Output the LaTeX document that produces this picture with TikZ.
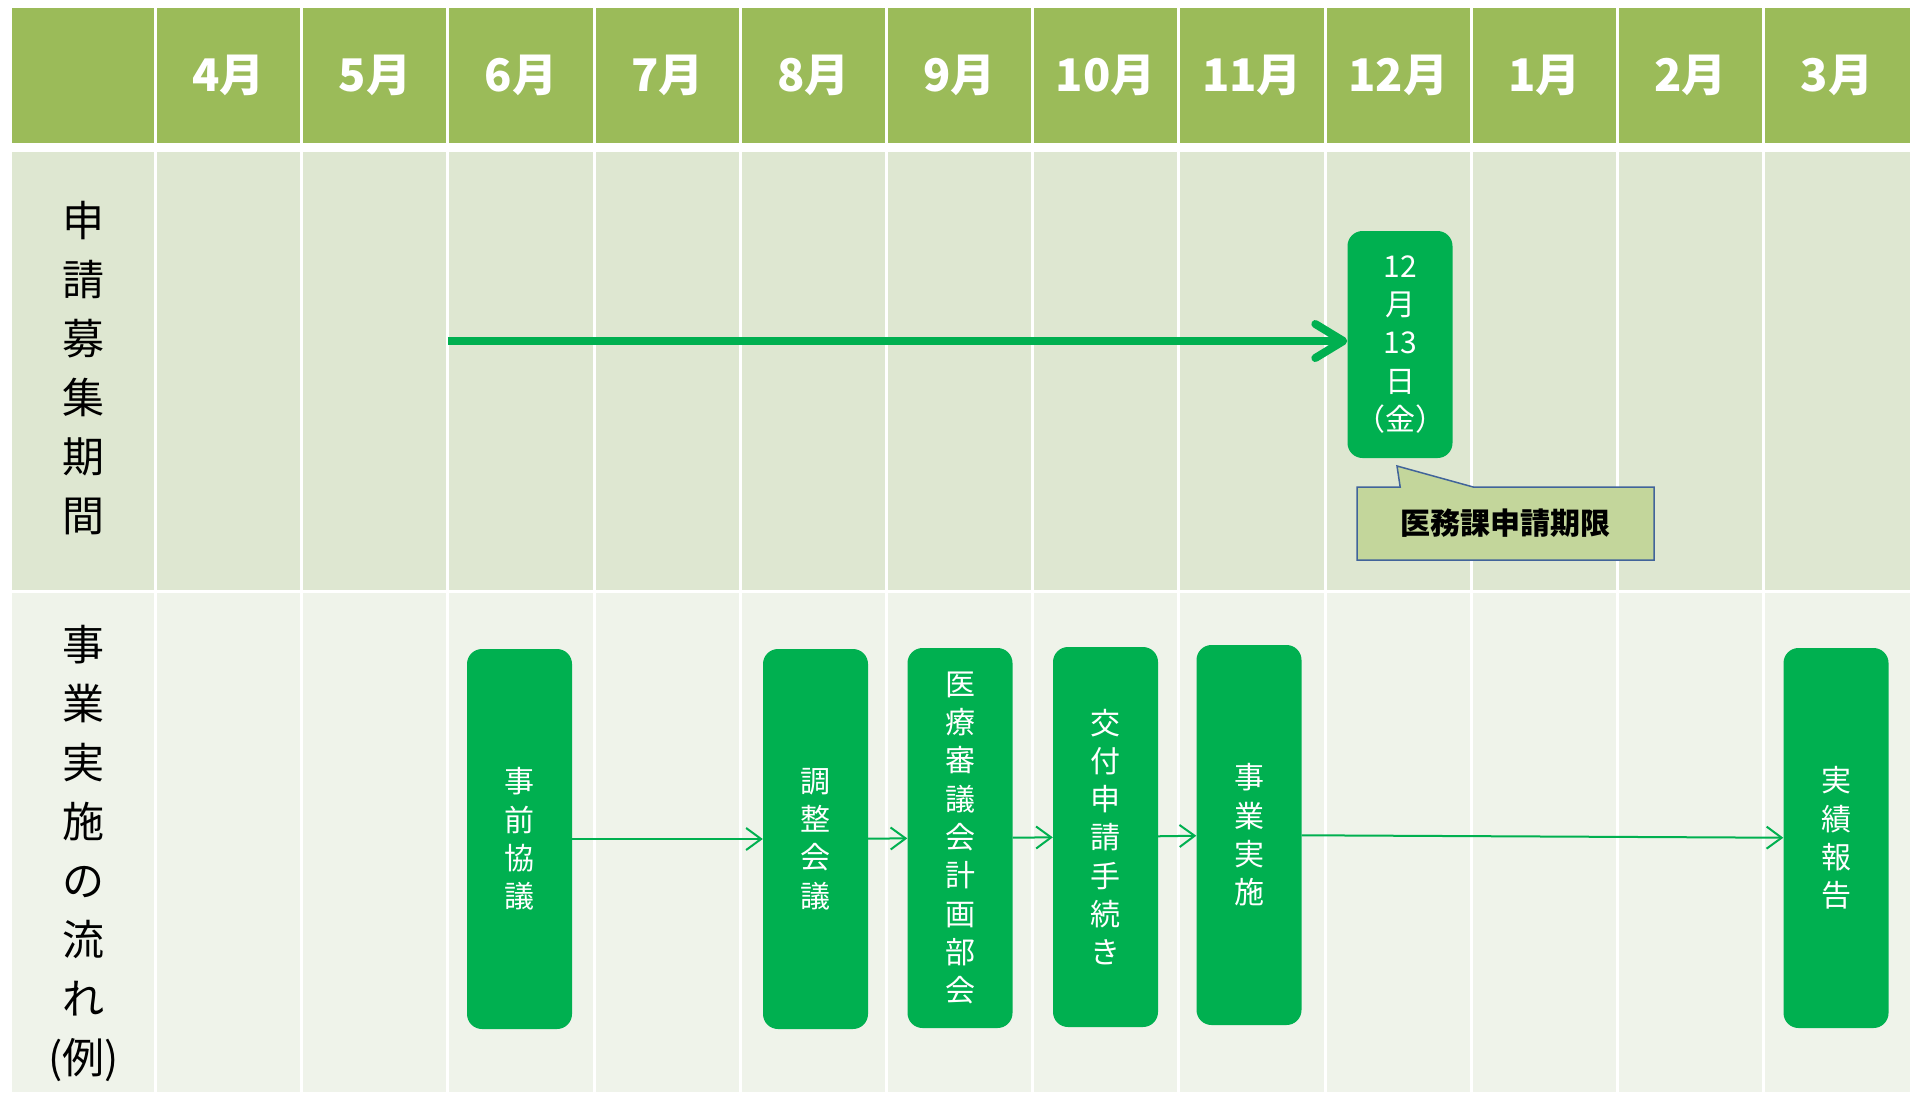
\documentclass[tikz,border=0pt]{standalone}
\usepackage{fontspec}
\setmainfont{Noto Sans CJK JP}
\usetikzlibrary{arrows.meta, shapes.callouts}
\definecolor{headgreen}{HTML}{9BBB59}
\definecolor{rowlight}{HTML}{DEE7D1}
\definecolor{rowpale}{HTML}{EFF3EA}
\definecolor{boxgreen}{HTML}{00B050}
\definecolor{noteolive}{HTML}{C3D69B}
\definecolor{noteblue}{HTML}{41649A}
\tikzset{
  month label/.style={
    text=white,
    font=\fontsize{45}{54}\selectfont\bfseries,
  },
  row label/.style={
    align=center,
    font=\fontsize{42}{59}\selectfont,
  },
  flow box/.style={
    rounded corners=15pt,
    fill=boxgreen,
    text=white,
    align=center,
    minimum width=105pt,
    minimum height=380pt,
    inner sep=0pt,
    font=\fontsize{30}{38.3}\selectfont,
  },
  cell rule/.style={
    white,
    line width=3pt,
  },
  flow arrow/.style={
    draw=boxgreen,
    line width=2pt,
    -{Straight Barb[length=15pt, width=22pt]},
  },
}

\begin{document}
\begin{tikzpicture}[x=1pt, y=-1pt]
      \useasboundingbox (0,0) rectangle (1910,1092);

      \fill[headgreen] (12,8) rectangle (1910,143);
      \fill[rowlight] (12,152) rectangle (1910,590);
      \fill[rowpale] (12,593) rectangle (1910,1092);

      \draw[cell rule] (155.5,0) -- (155.5,1092);
      \draw[cell rule] (301.7,0) -- (301.7,1092);
      \draw[cell rule] (447.9,0) -- (447.9,1092);
      \draw[cell rule] (594.1,0) -- (594.1,1092);
      \draw[cell rule] (740.3,0) -- (740.3,1092);
      \draw[cell rule] (886.5,0) -- (886.5,1092);
      \draw[cell rule] (1032.7,0) -- (1032.7,1092);
      \draw[cell rule] (1178.9,0) -- (1178.9,1092);
      \draw[cell rule] (1325.1,0) -- (1325.1,1092);
      \draw[cell rule] (1471.3,0) -- (1471.3,1092);
      \draw[cell rule] (1617.5,0) -- (1617.5,1092);
      \draw[cell rule] (1763.7,0) -- (1763.7,1092);

      \node[month label] (apr) at (228.6,75.5) {4月};
      \node[month label] (may) at (374.8,75.5) {5月};
      \node[month label] (jun) at (521.0,75.5) {6月};
      \node[month label] (jul) at (667.2,75.5) {7月};
      \node[month label] (aug) at (813.4,75.5) {8月};
      \node[month label] (sep) at (959.6,75.5) {9月};
      \node[month label] (oct) at (1105.8,75.5) {10月};
      \node[month label] (nov) at (1252.0,75.5) {11月};
      \node[month label] (dec) at (1398.2,75.5) {12月};
      \node[month label] (jan) at (1544.4,75.5) {1月};
      \node[month label] (feb) at (1690.6,75.5) {2月};
      \node[month label] (mar) at (1836.8,75.5) {3月};

      \node[row label] (period) at (83.5,368) {申\\請\\募\\集\\期\\間};
      \node[row label] (process) at (83.5,853) {事\\業\\実\\施\\の\\流\\れ\\(例)};

      \node[flow box, minimum height=227pt] (deadline) at (1400,344.5) {12\\月\\13\\日\\（金）};
      \coordinate (open) at (447.9,341);
      \draw[boxgreen, line width=8pt, -{Straight Barb[length=28pt, width=34pt, round]}]
        (open) -- (open -| deadline.west);

      \coordinate (tip) at (1397,466);
      \node[rectangle callout, draw=noteblue, line width=1.5pt, fill=noteolive,
            minimum width=297pt, minimum height=73pt, inner sep=0pt,
            callout pointer width=73pt, callout absolute pointer=(tip),
            font=\fontsize{30}{36}\selectfont\bfseries] (note) at (1505.5,523.5) {医務課申請期限};

      \node[flow box] (prior) at (519.5,839) {事\\前\\協\\議};
      \node[flow box] (adjust) at (815.5,839) {調\\整\\会\\議};
      \node[flow box] (council) at (960,838) {医\\療\\審\\議\\会\\計\\画\\部\\会};
      \node[flow box] (grant) at (1105.5,837) {交\\付\\申\\請\\手\\続\\き};
      \node[flow box] (project) at (1249,835) {事\\業\\実\\施};
      \node[flow box] (report) at (1836,838) {実\\績\\報\\告};

      \draw[flow arrow] (prior) -- (adjust);
      \draw[flow arrow] (adjust) -- (council);
      \draw[flow arrow] (council) -- (grant);
      \draw[flow arrow] (grant) -- (project);
      \draw[flow arrow] (project) -- (report);
    \end{tikzpicture}
\end{document}
